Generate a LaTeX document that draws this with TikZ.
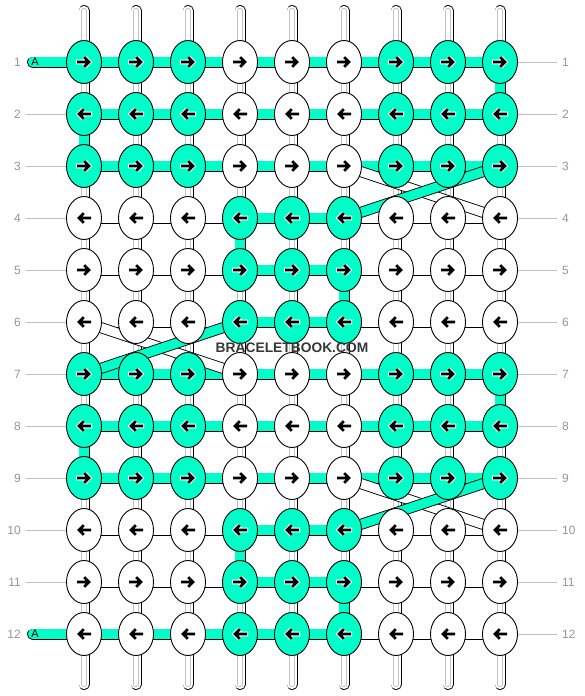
\documentclass[tikz,border=0pt]{standalone}
\usepackage{fontspec}
\setmainfont{Liberation Sans}
\usepackage{tikz}
\usetikzlibrary{shapes.geometric,backgrounds}
\pgfdeclarelayer{background}
\pgfsetlayers{background,main}
\definecolor{bbteal}{RGB}{0,255,200}
\definecolor{guidegray}{RGB}{190,190,190}
\definecolor{numgray}{RGB}{150,150,150}
\definecolor{seamgray}{RGB}{195,195,195}
\definecolor{markgray}{RGB}{55,55,55}

\begin{document}
\begin{tikzpicture}[x=1pt,y=-1pt]
  \tikzset{
    knot/.style={ellipse, draw, line width=0.9pt, minimum width=35pt, minimum height=43pt, inner sep=0pt},
    tband/.style={line width=11pt, draw=black, postaction={draw=bbteal, line width=9.2pt}},
    wband/.style={line width=11pt, draw=black, postaction={draw=white, line width=9.2pt}},
    wstrand/.style={line width=11pt, draw=black, postaction={draw=white, line width=9.2pt},
      postaction={draw=seamgray, line width=5.4pt}, postaction={draw=white, line width=3.4pt}},
    guide/.style={draw=guidegray, line width=0.8pt},
    num/.style={text=numgray, font=\fontsize{12}{12}\selectfont, inner xsep=5pt, inner ysep=0pt},
    arw/.style={draw=black, line width=2.8pt},
    halo/.style={draw=white, line width=4.8pt},
    rarrow/.pic={\draw[arw] (-7,0) -- (5,0) (0.2,-4.8) -- (5,0) -- (0.2,4.8);},
    rhalo/.pic={\draw[halo] (-8,0) -- (5,0) (0.2,-4.8) -- (5,0) -- (0.2,4.8);}
  }
  \useasboundingbox (0,0) rectangle (584,696);

  % knots, rows 1..12, columns 1..9
  \foreach \r in {1,...,12}{
    \foreach \c in {1,...,9}{
      \pgfmathtruncatemacro\band{mod(int((\r-1)/3),2)}
      \pgfmathtruncatemacro\mid{and(\c>3,\c<7)}
      \ifnum\band=\mid\relax \def\kfill{bbteal}\else \def\kfill{white}\fi
      \ifodd\r\relax \def\dir{1}\else \def\dir{-1}\fi
      \node[knot, fill=\kfill] (k-\r-\c) at ({84+52*(\c-1)}, {62+52*(\r-1)}) {};
      \ifnum\band=\mid\relax \pic[xscale=\dir] at (k-\r-\c.center) {rhalo};\fi
      \pic[xscale=\dir] at (k-\r-\c.center) {rarrow};
    }
    \node[num, anchor=east] (nl-\r) at (26, {62+52*(\r-1)}) {\r};
    \node[num, anchor=west] (nr-\r) at (557, {62+52*(\r-1)}) {\r};
  }
  \foreach \c in {1,...,9}{
    \coordinate (top-\c) at ({84+52*(\c-1)}, 10.5);
    \coordinate (bot-\c) at ({84+52*(\c-1)}, 684.5);
  }
  \coordinate (lead-1) at (32.5, 62);
  \coordinate (lead-12) at (32.5, 634);
  \node[font=\fontsize{11}{11}\selectfont, inner sep=0pt] (a-1) at (35, 62) {A};
  \node[font=\fontsize{11}{11}\selectfont, inner sep=0pt] (a-12) at (35, 634) {A};

  \node[font=\bfseries\fontsize{13.8}{14}\selectfont, text=markgray, inner sep=0pt] (site) at (292, 348) {BRACELETBOOK.COM};

  \begin{pgfonlayer}{background}
    \fill[white] (0,0) rectangle (584,696);
    % guide lines to the row numbers
    \foreach \r in {2,...,11}{
      \draw[guide] (nl-\r.east) -- (k-\r-1.center);
    }
    \foreach \r in {1,...,12}{
      \draw[guide] (k-\r-9.center) -- (nr-\r.west);
    }
    % loose ends, top and bottom
    \foreach \c in {1,...,9}{
      \draw[wstrand, line cap=round] (top-\c) -- (k-1-\c.center);
      \draw[wstrand, line cap=round] (k-12-\c.center) -- (bot-\c);
    }
    % vertical strands
    \foreach \r in {1,...,11}{
      \foreach \c in {1,...,9}{
        \pgfmathtruncatemacro\s{\r+1}
        \draw[wstrand] (k-\r-\c.center) -- (k-\s-\c.center);
      }
    }
    \foreach \r/\c in {1/9,2/1,4/4,5/6,7/9,8/1,10/4,11/6}{
      \pgfmathtruncatemacro\s{\r+1}
      \draw[tband] (k-\r-\c.center) -- (k-\s-\c.center);
    }
    % horizontal strands
    \foreach \r in {1,...,12}{
      \foreach \c in {1,...,8}{
        \pgfmathtruncatemacro\n{\c+1}
        \draw[wband] (k-\r-\c.center) -- (k-\r-\n.center);
      }
    }
    \foreach \r in {1,2,3,7,8,9}{
      \foreach \c in {1,...,8}{
        \pgfmathtruncatemacro\n{\c+1}
        \draw[tband] (k-\r-\c.center) -- (k-\r-\n.center);
      }
    }
    \foreach \r in {4,5,6,10,11,12}{
      \foreach \c in {4,5}{
        \pgfmathtruncatemacro\n{\c+1}
        \draw[tband] (k-\r-\c.center) -- (k-\r-\n.center);
      }
    }
    \foreach \c in {1,2,3}{
      \pgfmathtruncatemacro\n{\c+1}
      \draw[tband] (k-12-\c.center) -- (k-12-\n.center);
    }
    \draw[tband, line cap=round] (lead-1) -- (k-1-1.center);
    \draw[tband, line cap=round] (lead-12) -- (k-12-1.center);
    % crossings between the blocks
    \foreach \a/\b/\u/\v in {3/6/4/9, 6/1/7/4, 9/6/10/9}{
      \draw[wband] (k-\a-\b.center) -- (k-\u-\v.center);
    }
    \foreach \a/\b/\u/\v in {3/9/4/6, 6/4/7/1, 9/9/10/6}{
      \draw[tband] (k-\a-\b.center) -- (k-\u-\v.center);
    }
  \end{pgfonlayer}
\end{tikzpicture}
\end{document}
